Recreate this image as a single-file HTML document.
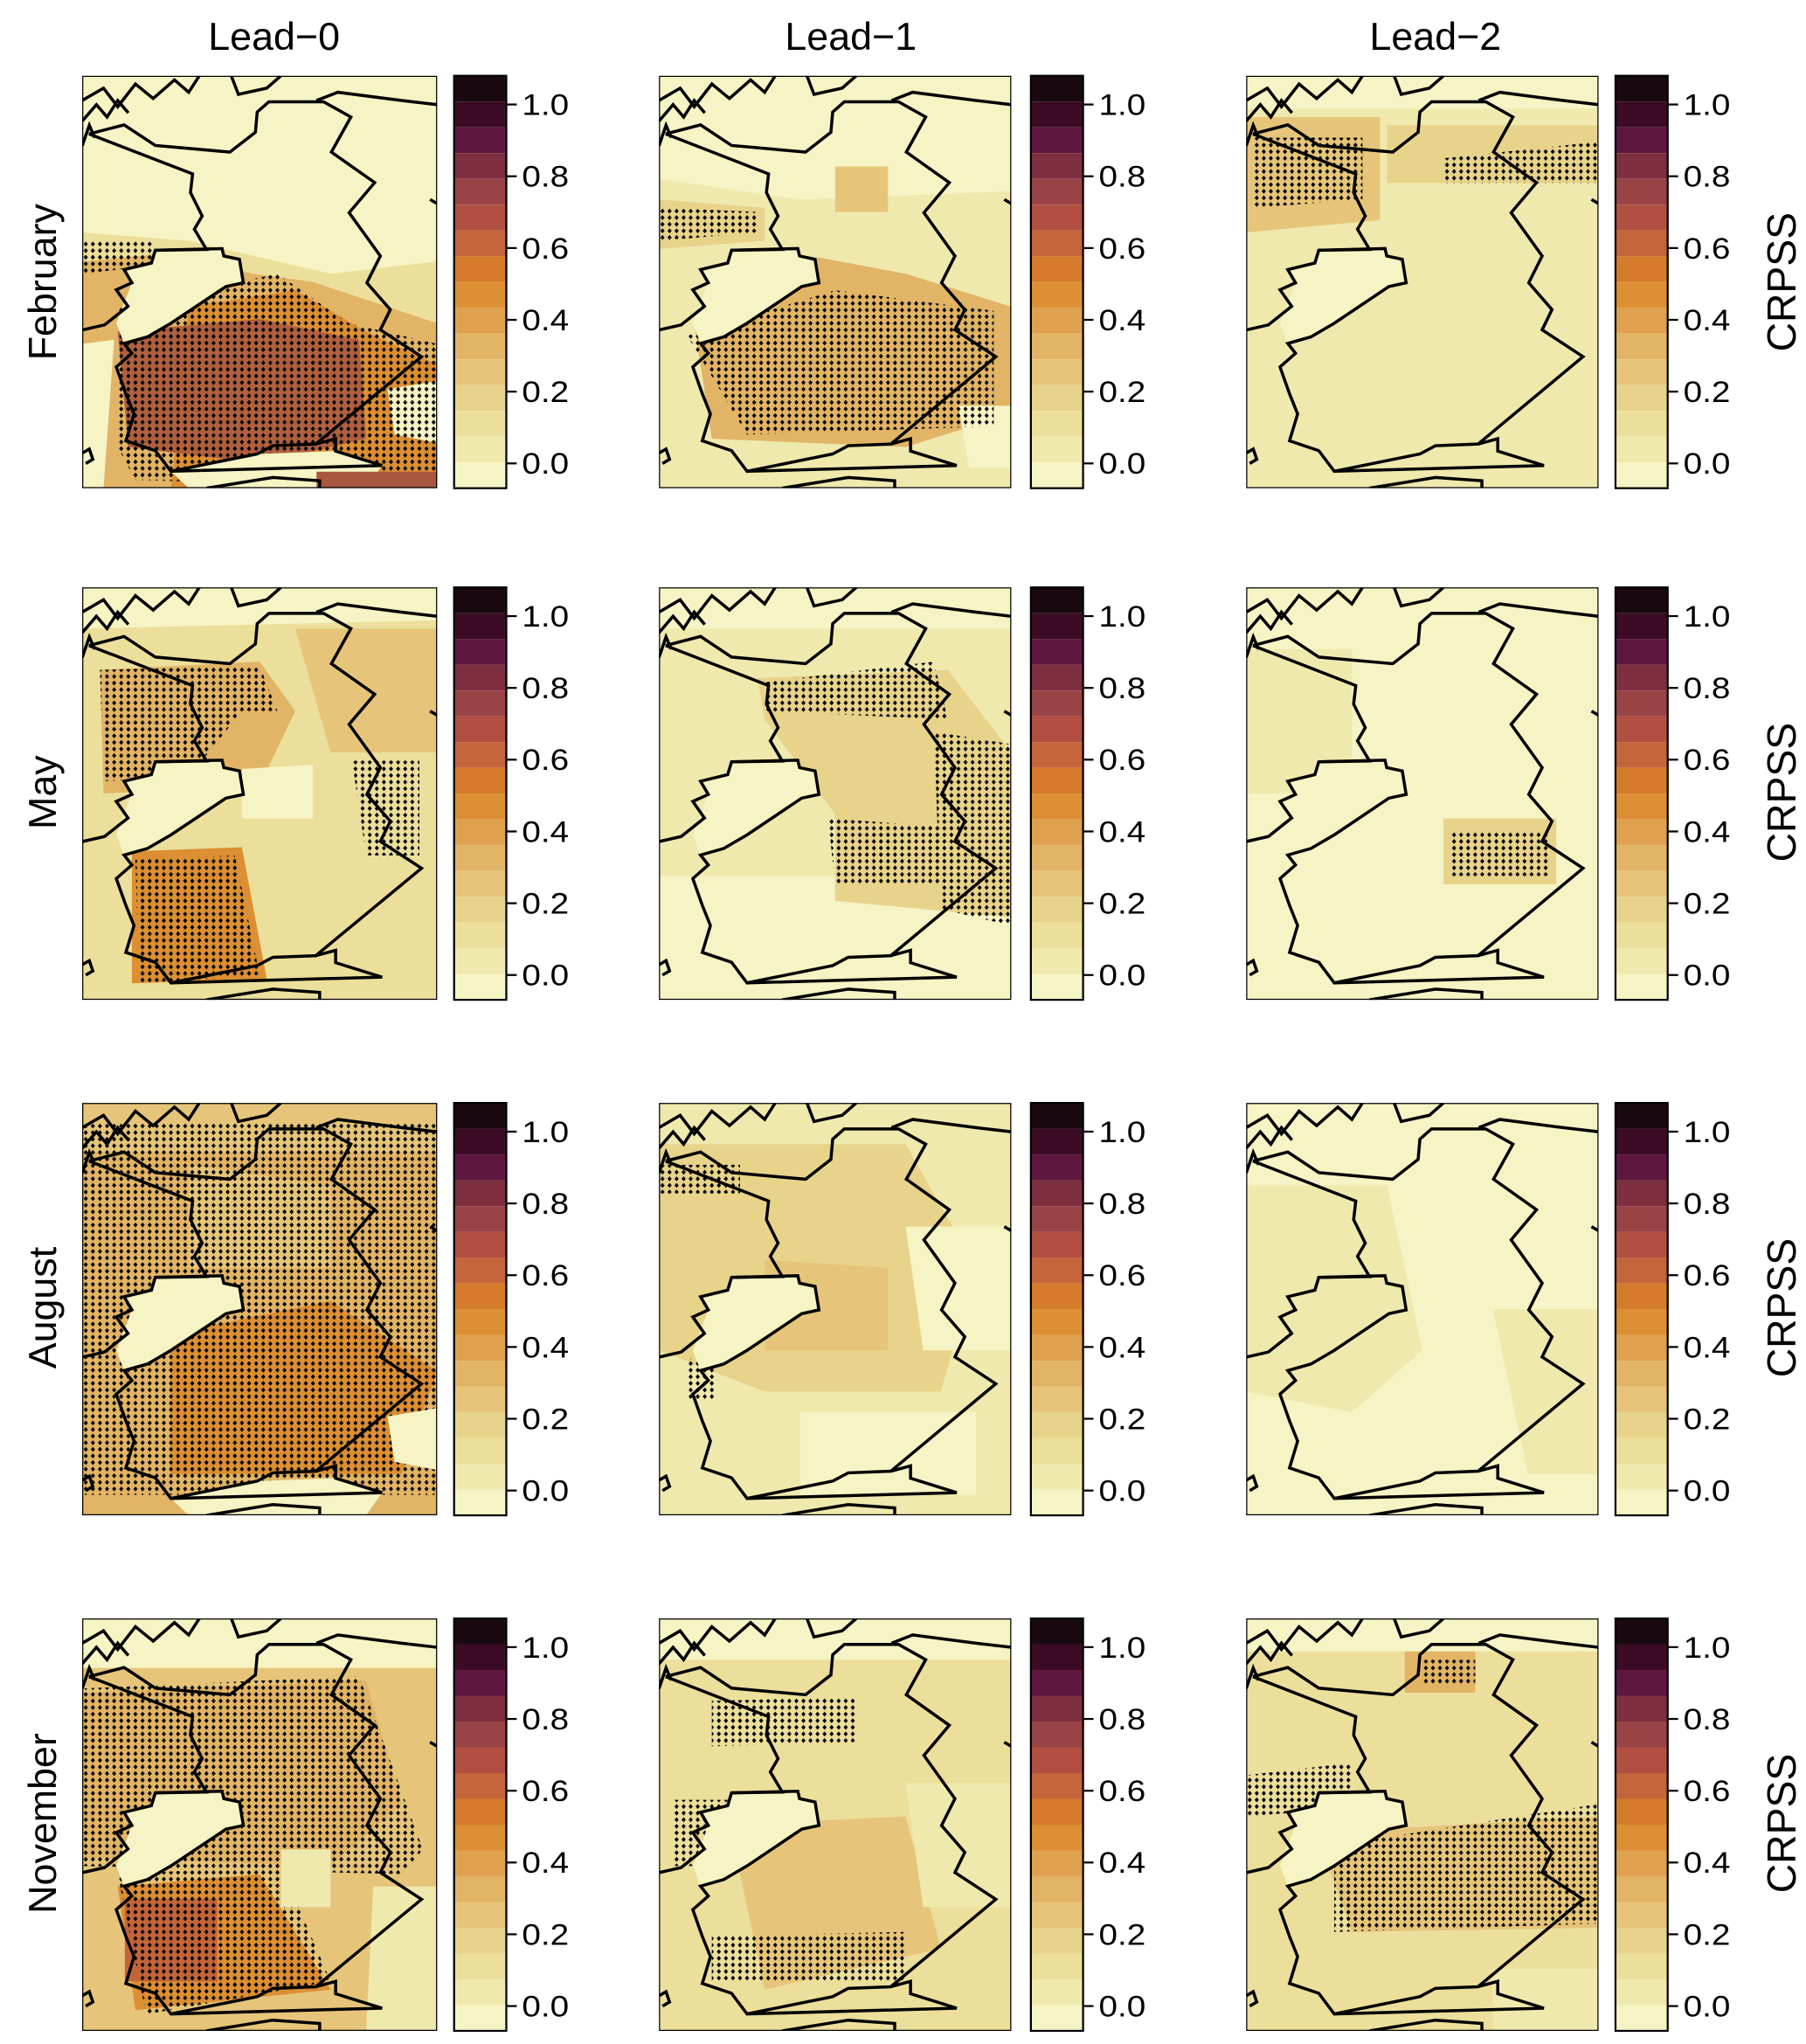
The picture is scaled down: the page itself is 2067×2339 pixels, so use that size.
<!DOCTYPE html>
<html><head><meta charset="utf-8"><style>
html,body{margin:0;padding:0;background:#fff}
svg{display:block}
text{font-family:"Liberation Sans",sans-serif;fill:#000}
</style></head><body>
<svg width="2067" height="2339" viewBox="0 0 1384 1566" xmlns="http://www.w3.org/2000/svg">
<defs>
<pattern id="dots" width="20" height="16" patternUnits="userSpaceOnUse"><polygon points="10,2 16,8 10,14 4,8" fill="#000"/></pattern>
<polygon id="isl" points="206,423 394,419 399,437 443,445 454,502 405,511 250,600 184,633 118,649 96,600 140,502 118,470 195,454"/>
<g id="coast" fill="none" stroke="#000" stroke-width="3.5" stroke-linejoin="miter">
<polyline vector-effect="non-scaling-stroke" points="19,141 311,238 305,283 338,340 316,372 350,421 206,423 195,454 118,470 140,502 96,519 129,559 63,604 2,616"/>
<polyline vector-effect="non-scaling-stroke" points="206,423 394,419 399,437 443,445 454,502 405,511 250,600 184,633 118,649 140,673 96,706 123,771 146,820 123,885 206,909 250,959 493,917 537,897 658,893 956,681 840,616 868,567 802,502 840,437 752,332 824,259 702,185 757,100 680,63 526,63 493,88 488,137 416,185 206,169 118,119 19,141"/>
<polyline vector-effect="non-scaling-stroke" points="658,893 714,880 714,910 845,945 250,959"/>
<polyline vector-effect="non-scaling-stroke" points="350,1000 537,974 669,982 669,1000"/>
<polyline vector-effect="non-scaling-stroke" points="0,60 60,30 100,75 150,20 200,55 260,10 300,40 330,0"/>
<polyline vector-effect="non-scaling-stroke" points="0,110 40,70 70,100 100,60 130,90"/>
<polyline vector-effect="non-scaling-stroke" points="420,0 440,45 520,30 560,0"/>
<polyline vector-effect="non-scaling-stroke" points="660,60 720,40 900,60 1000,70"/>
<polyline vector-effect="non-scaling-stroke" points="0,170 20,120 35,150"/>
<polyline vector-effect="non-scaling-stroke" points="980,300 1000,310"/>
<polyline vector-effect="non-scaling-stroke" points="0,915 20,905 30,930 10,940"/>
</g>
<g id="cb">
<rect x="0" y="0" width="40" height="19.75" fill="#180a10"/>
<rect x="0" y="19.75" width="40" height="19.75" fill="#3c0c26"/>
<rect x="0" y="39.5" width="40" height="19.75" fill="#5e173f"/>
<rect x="0" y="59.25" width="40" height="19.75" fill="#7d2f40"/>
<rect x="0" y="79" width="40" height="19.75" fill="#9a4347"/>
<rect x="0" y="98.75" width="40" height="19.75" fill="#b04f42"/>
<rect x="0" y="118.5" width="40" height="19.75" fill="#c4643a"/>
<rect x="0" y="138.25" width="40" height="19.75" fill="#d57a2a"/>
<rect x="0" y="158" width="40" height="19.75" fill="#dc8f33"/>
<rect x="0" y="177.75" width="40" height="19.75" fill="#dfa14e"/>
<rect x="0" y="197.5" width="40" height="19.75" fill="#e2b466"/>
<rect x="0" y="217.25" width="40" height="19.75" fill="#e6c57a"/>
<rect x="0" y="237" width="40" height="19.75" fill="#e8d38b"/>
<rect x="0" y="256.75" width="40" height="19.75" fill="#ecdf9c"/>
<rect x="0" y="276.5" width="40" height="19.75" fill="#efe9ae"/>
<rect x="0" y="296.25" width="40" height="19.75" fill="#f6f4c4"/>
<rect x="0" y="0" width="40" height="316" fill="none" stroke="#000" stroke-width="1.5"/>
<g stroke="#000" stroke-width="1.5">
<line x1="40" y1="22" x2="48" y2="22"/><line x1="40" y1="77" x2="48" y2="77"/><line x1="40" y1="132" x2="48" y2="132"/><line x1="40" y1="187" x2="48" y2="187"/><line x1="40" y1="242" x2="48" y2="242"/><line x1="40" y1="297" x2="48" y2="297"/>
</g>
<g font-size="23">
<text x="52" y="30" textLength="36" lengthAdjust="spacingAndGlyphs">1.0</text>
<text x="52" y="85" textLength="36" lengthAdjust="spacingAndGlyphs">0.8</text>
<text x="52" y="140" textLength="36" lengthAdjust="spacingAndGlyphs">0.6</text>
<text x="52" y="195" textLength="36" lengthAdjust="spacingAndGlyphs">0.4</text>
<text x="52" y="250" textLength="36" lengthAdjust="spacingAndGlyphs">0.2</text>
<text x="52" y="305" textLength="36" lengthAdjust="spacingAndGlyphs">0.0</text>
</g>
</g>
</defs>

<g font-size="30" text-anchor="middle">
<text x="210" y="38">Lead−0</text>
<text x="652" y="38">Lead−1</text>
<text x="1100" y="38">Lead−2</text>
</g>
<g font-size="30" text-anchor="middle">
<text transform="translate(43,216) rotate(-90)">February</text>
<text transform="translate(43,607) rotate(-90)">May</text>
<text transform="translate(43,1002) rotate(-90)">August</text>
<text transform="translate(43,1397) rotate(-90)">November</text>
</g>
<g font-size="31" text-anchor="middle">
<text transform="translate(1376,216) rotate(-90)">CRPSS</text>
<text transform="translate(1376,607) rotate(-90)">CRPSS</text>
<text transform="translate(1376,1002) rotate(-90)">CRPSS</text>
<text transform="translate(1376,1397) rotate(-90)">CRPSS</text>
</g>

<use href="#cb" x="348" y="58"/><use href="#cb" x="790" y="58"/><use href="#cb" x="1238" y="58"/>
<use href="#cb" x="348" y="450"/><use href="#cb" x="790" y="450"/><use href="#cb" x="1238" y="450"/>
<use href="#cb" x="348" y="845"/><use href="#cb" x="790" y="845"/><use href="#cb" x="1238" y="845"/>
<use href="#cb" x="348" y="1240"/><use href="#cb" x="790" y="1240"/><use href="#cb" x="1238" y="1240"/>

<svg x="63" y="58" width="272" height="316" viewBox="0 0 1000 1000" preserveAspectRatio="none">
<rect width="1000" height="1000" fill="#f6f4c4"/>
<polygon points="0,380 300,400 500,440 700,480 1000,450 1000,1000 0,1000" fill="#ecdf9c"/>
<polygon points="0,450 250,430 480,480 650,500 1000,600 1000,1000 0,1000" fill="#e2b466"/>
<polygon points="300,560 600,520 800,620 1000,700 1000,1000 250,1000" fill="#dc8f33"/>
<polygon points="100,620 500,590 780,640 800,880 500,940 130,900" fill="#b0603f"/>
<polygon points="860,760 1000,740 1000,890 880,870" fill="#f6f4c4"/>
<polygon points="0,650 90,640 60,1000 0,1000" fill="#f6f4c4"/>
<polygon points="100,560 550,480 750,600 1000,650 1000,1000 150,980 100,900" fill="url(#dots)"/>
<polygon points="0,400 200,400 200,460 0,480" fill="url(#dots)"/>
<use href="#isl" fill="#f6f4c4"/>
<polygon points="250,959 493,917 714,910 845,945 800,1000 300,1000" fill="#f6f4c4"/>
<rect x="660" y="960" width="340" height="40" fill="#a9583f"/>
<use href="#coast"/>
<rect width="1000" height="1000" fill="none" stroke="#000" stroke-width="2.5" vector-effect="non-scaling-stroke"/>
</svg>

<svg x="505" y="58" width="270" height="316" viewBox="0 0 1000 1000" preserveAspectRatio="none">
<rect width="1000" height="1000" fill="#f6f4c4"/>
<polygon points="0,250 400,300 1000,280 1000,1000 0,1000" fill="#efe9ae"/>
<polygon points="0,300 300,320 300,400 0,420" fill="#e8d38b"/>
<polygon points="100,600 450,440 700,480 1000,560 1000,820 700,900 150,880" fill="#e2b466"/>
<polygon points="500,220 650,220 650,330 500,330" fill="#e6c57a"/>
<polygon points="850,800 1000,800 1000,950 880,950" fill="#f6f4c4"/>
<polygon points="80,630 500,520 950,570 950,850 250,870" fill="url(#dots)"/>
<polygon points="0,320 280,330 280,380 0,400" fill="url(#dots)"/>
<use href="#isl" fill="#f6f4c4"/>
<use href="#coast"/>
<rect width="1000" height="1000" fill="none" stroke="#000" stroke-width="2.5" vector-effect="non-scaling-stroke"/>
</svg>

<svg x="955" y="58" width="270" height="316" viewBox="0 0 1000 1000" preserveAspectRatio="none">
<rect width="1000" height="1000" fill="#f6f4c4"/>
<polygon points="0,80 1000,80 1000,1000 0,1000" fill="#efe9ae"/>
<polygon points="0,100 380,100 380,350 0,380" fill="#e6c57a"/>
<polygon points="400,120 1000,120 1000,260 400,260" fill="#e8d38b"/>
<polygon points="20,150 330,150 330,300 20,320" fill="url(#dots)"/>
<polygon points="560,200 1000,160 1000,260 560,260" fill="url(#dots)"/>
<use href="#isl" fill="#f6f4c4"/>
<use href="#coast"/>
<rect width="1000" height="1000" fill="none" stroke="#000" stroke-width="2.5" vector-effect="non-scaling-stroke"/>
</svg>

<svg x="63" y="450" width="272" height="316" viewBox="0 0 1000 1000" preserveAspectRatio="none">
<rect width="1000" height="1000" fill="#f6f4c4"/>
<polygon points="0,100 1000,80 1000,1000 0,1000" fill="#ecdf9c"/>
<polygon points="50,200 500,180 600,300 500,480 60,500" fill="#e2b466"/>
<polygon points="600,100 1000,100 1000,400 700,400" fill="#e6c57a"/>
<polygon points="140,640 450,630 520,950 140,960" fill="#dc8f33"/>
<polygon points="50,200 500,190 550,300 450,300 300,460 60,470" fill="url(#dots)"/>
<polygon points="150,660 430,650 500,940 160,960" fill="url(#dots)"/>
<polygon points="760,420 950,420 950,650 800,650" fill="url(#dots)"/>
<polygon points="450,440 650,430 650,560 450,560" fill="#f6f4c4"/>
<use href="#isl" fill="#f6f4c4"/>
<use href="#coast"/>
<rect width="1000" height="1000" fill="none" stroke="#000" stroke-width="2.5" vector-effect="non-scaling-stroke"/>
</svg>

<svg x="505" y="450" width="270" height="316" viewBox="0 0 1000 1000" preserveAspectRatio="none">
<rect width="1000" height="1000" fill="#f6f4c4"/>
<polygon points="0,100 1000,100 1000,700 0,700" fill="#efe9ae"/>
<polygon points="280,220 820,200 1000,400 1000,800 500,760 500,550 300,320" fill="#e8d38b"/>
<polygon points="300,230 780,180 820,320 300,300" fill="url(#dots)"/>
<polygon points="780,350 1000,380 1000,820 800,780" fill="url(#dots)"/>
<polygon points="480,560 800,580 800,720 500,720" fill="url(#dots)"/>
<use href="#isl" fill="#f6f4c4"/>
<use href="#coast"/>
<rect width="1000" height="1000" fill="none" stroke="#000" stroke-width="2.5" vector-effect="non-scaling-stroke"/>
</svg>

<svg x="955" y="450" width="270" height="316" viewBox="0 0 1000 1000" preserveAspectRatio="none">
<rect width="1000" height="1000" fill="#f6f4c4"/>
<polygon points="0,150 300,150 300,500 0,500" fill="#efe9ae"/>
<polygon points="560,560 880,560 880,720 560,720" fill="#e8d38b"/>
<polygon points="580,590 860,590 860,700 580,700" fill="url(#dots)"/>
<use href="#isl" fill="#f6f4c4"/>
<use href="#coast"/>
<rect width="1000" height="1000" fill="none" stroke="#000" stroke-width="2.5" vector-effect="non-scaling-stroke"/>
</svg>

<svg x="63" y="845" width="272" height="316" viewBox="0 0 1000 1000" preserveAspectRatio="none">
<rect width="1000" height="1000" fill="#e2b466"/>
<polygon points="0,0 1000,0 1000,120 0,120" fill="#e6c57a"/>
<polygon points="250,560 700,480 1000,650 900,900 250,900" fill="#dc8f33"/>
<polygon points="300,150 700,200 700,400 300,400" fill="#e6c57a"/>
<polygon points="0,50 1000,50 1000,950 0,950" fill="url(#dots)"/>
<polygon points="860,760 1000,740 1000,890 880,870" fill="#f6f4c4"/>
<use href="#isl" fill="#f6f4c4"/>
<polygon points="250,959 493,917 714,910 845,945 800,1000 300,1000" fill="#f6f4c4"/>
<use href="#coast"/>
<rect width="1000" height="1000" fill="none" stroke="#000" stroke-width="2.5" vector-effect="non-scaling-stroke"/>
</svg>

<svg x="505" y="845" width="270" height="316" viewBox="0 0 1000 1000" preserveAspectRatio="none">
<rect width="1000" height="1000" fill="#efe9ae"/>
<polygon points="0,100 700,100 900,400 800,700 300,700 0,600" fill="#e8d38b"/>
<polygon points="300,380 650,400 650,600 300,600" fill="#e6c57a"/>
<polygon points="700,300 1000,300 1000,600 750,600" fill="#f6f4c4"/>
<polygon points="400,750 900,750 900,950 400,950" fill="#f6f4c4"/>
<polygon points="0,150 230,150 230,220 0,220" fill="url(#dots)"/>
<polygon points="80,620 160,620 160,720 80,720" fill="url(#dots)"/>
<use href="#isl" fill="#f6f4c4"/>
<use href="#coast"/>
<rect width="1000" height="1000" fill="none" stroke="#000" stroke-width="2.5" vector-effect="non-scaling-stroke"/>
</svg>

<svg x="955" y="845" width="270" height="316" viewBox="0 0 1000 1000" preserveAspectRatio="none">
<rect width="1000" height="1000" fill="#f6f4c4"/>
<polygon points="0,200 400,200 500,600 300,750 0,700" fill="#efe9ae"/>
<polygon points="700,500 1000,500 1000,900 800,900" fill="#efe9ae"/>
<use href="#coast"/>
<rect width="1000" height="1000" fill="none" stroke="#000" stroke-width="2.5" vector-effect="non-scaling-stroke"/>
</svg>

<svg x="63" y="1240" width="272" height="316" viewBox="0 0 1000 1000" preserveAspectRatio="none">
<rect width="1000" height="1000" fill="#e6c57a"/>
<polygon points="0,0 1000,0 1000,120 0,120" fill="#f6f4c4"/>
<polygon points="0,180 800,150 900,450 700,600 0,580" fill="#e2b466"/>
<polygon points="100,650 500,620 700,900 150,950" fill="#dc8f33"/>
<polygon points="120,680 380,680 380,880 120,880" fill="#c4643a"/>
<polygon points="0,170 780,140 960,560 900,620 0,600" fill="url(#dots)"/>
<polygon points="100,620 560,600 700,880 180,960" fill="url(#dots)"/>
<polygon points="560,560 700,560 700,700 560,700" fill="#efe9ae"/>
<polygon points="820,650 1000,650 1000,1000 800,1000" fill="#efe9ae"/>
<use href="#isl" fill="#f6f4c4"/>
<use href="#coast"/>
<rect width="1000" height="1000" fill="none" stroke="#000" stroke-width="2.5" vector-effect="non-scaling-stroke"/>
</svg>

<svg x="505" y="1240" width="270" height="316" viewBox="0 0 1000 1000" preserveAspectRatio="none">
<rect width="1000" height="1000" fill="#ecdf9c"/>
<polygon points="0,0 1000,0 1000,100 0,100" fill="#f6f4c4"/>
<polygon points="200,500 700,480 800,800 300,900" fill="#e6c57a"/>
<polygon points="150,200 560,190 560,300 150,310" fill="url(#dots)"/>
<polygon points="40,440 230,440 230,600 40,600" fill="url(#dots)"/>
<polygon points="150,770 700,760 700,880 150,880" fill="url(#dots)"/>
<polygon points="700,400 1000,400 1000,700 750,700" fill="#efe9ae"/>
<use href="#isl" fill="#f6f4c4"/>
<use href="#coast"/>
<rect width="1000" height="1000" fill="none" stroke="#000" stroke-width="2.5" vector-effect="non-scaling-stroke"/>
</svg>

<svg x="955" y="1240" width="270" height="316" viewBox="0 0 1000 1000" preserveAspectRatio="none">
<rect width="1000" height="1000" fill="#ecdf9c"/>
<polygon points="0,0 1000,0 1000,80 0,80" fill="#f6f4c4"/>
<polygon points="450,80 650,80 650,180 450,180" fill="#e2b466"/>
<polygon points="200,520 1000,480 1000,750 300,760" fill="#e6c57a"/>
<polygon points="700,850 1000,850 1000,1000 700,1000" fill="#efe9ae"/>
<polygon points="0,380 300,350 300,460 0,480" fill="url(#dots)"/>
<polygon points="250,550 1000,450 1000,740 250,760" fill="url(#dots)"/>
<polygon points="500,100 650,100 650,160 500,160" fill="url(#dots)"/>
<use href="#isl" fill="#f6f4c4"/>
<use href="#coast"/>
<rect width="1000" height="1000" fill="none" stroke="#000" stroke-width="2.5" vector-effect="non-scaling-stroke"/>
</svg>
</svg>
</body></html>
